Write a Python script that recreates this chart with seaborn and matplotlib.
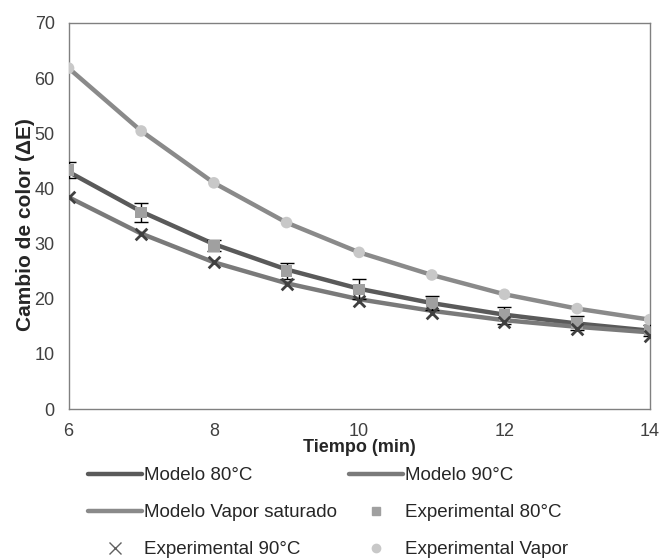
import numpy as np
import matplotlib
matplotlib.use("Agg")
import matplotlib.pyplot as plt
import seaborn as sns
import pandas as pd
from matplotlib.lines import Line2D

# data
tiempo = [6, 7, 8, 9, 10, 11, 12, 13, 14]
exp_80 = [43.3, 35.6, 29.6, 25.0, 21.7, 19.2, 17.0, 15.6, 14.3]
err_80 = [1.5, 1.7, 1.0, 1.5, 1.8, 1.3, 1.5, 1.3, 1.0]
exp_90 = [38.4, 31.7, 26.7, 22.7, 19.6, 17.4, 15.8, 14.5, 13.3]
exp_vapor = [61.8, 50.4, 41.0, 33.8, 28.4, 24.3, 20.8, 18.2, 16.2]
mod_80 = [43.0, 35.8, 29.9, 25.3, 21.8, 19.2, 17.1, 15.5, 14.2]
mod_90 = [38.4, 31.8, 26.6, 22.8, 19.9, 17.8, 16.1, 14.9, 13.9]
mod_vapor = [61.8, 50.4, 41.0, 33.8, 28.4, 24.3, 20.8, 18.2, 16.2]

sns.set_style("white")
plt.rcParams["font.family"] = ["Liberation Sans", "DejaVu Sans"]
FS = 13

fig = plt.figure(figsize=(6.59, 5.58), dpi=100)
ax = fig.add_axes([0.104, 0.267, 0.882, 0.692])

df_mod = pd.DataFrame({"t": tiempo * 3,
                       "v": mod_80 + mod_90 + mod_vapor,
                       "s": ["Modelo 80°C"] * 9 + ["Modelo 90°C"] * 9 + ["Modelo Vapor saturado"] * 9})
line_cols = {"Modelo 80°C": "#5a5a5a", "Modelo 90°C": "#7a7a7a", "Modelo Vapor saturado": "#8a8a8a"}
sns.lineplot(data=df_mod, x="t", y="v", hue="s", palette=line_cols, linewidth=3.2,
             ax=ax, legend=False, zorder=2)

ax.errorbar(tiempo, exp_80, yerr=err_80, fmt="none", ecolor="black", elinewidth=1,
            capsize=5, capthick=1, zorder=3)
sns.scatterplot(x=tiempo, y=exp_80, marker="s", s=70, color="#a0a0a0", edgecolor="none", ax=ax, zorder=4)
sns.scatterplot(x=tiempo, y=exp_90, marker="x", s=70, color="#404040", linewidth=2, ax=ax, zorder=4)
sns.scatterplot(x=tiempo, y=exp_vapor, marker="o", s=70, color="#c8c8c8", edgecolor="none", ax=ax, zorder=4)

ax.set_xlim(6, 14)
ax.set_ylim(0, 70)
ax.set_xticks([6, 8, 10, 12, 14])
ax.set_yticks(range(0, 71, 10))
ax.tick_params(axis="both", length=0, labelsize=FS, colors="#404040")
ax.tick_params(axis="y", pad=10)
ax.tick_params(axis="x", pad=10)
for sp in ax.spines.values():
    sp.set_color("#808080")
    sp.set_linewidth(1)

ax.set_xlabel("Tiempo (min)", fontsize=FS, fontweight="bold", labelpad=-1)
ax.set_ylabel("Cambio de color (ΔE)", fontsize=15, fontweight="bold")
ax.yaxis.set_label_coords(-0.057, 0.477)

h_m80 = Line2D([], [], color="#5a5a5a", lw=3.2)
h_m90 = Line2D([], [], color="#7a7a7a", lw=3.2)
h_mv = Line2D([], [], color="#8a8a8a", lw=3.2)
h_e80 = Line2D([], [], ls="none", marker="s", ms=6, color="#a0a0a0")
h_e90 = Line2D([], [], ls="none", marker="x", ms=9, color="#606060", mew=1)
h_ev = Line2D([], [], ls="none", marker="o", ms=6, color="#c8c8c8")
handles = [h_m80, h_mv, h_e90, h_m90, h_e80, h_ev]
labels = ["Modelo 80°C", "Modelo Vapor saturado", "Experimental 90°C",
          "Modelo 90°C", "Experimental 80°C", "Experimental Vapor"]
fig.legend(handles, labels, ncol=2, loc="upper left", bbox_to_anchor=(88 / 659, 0.163),
           frameon=False, fontsize=13.5, handlelength=2.9, handletextpad=0.1,
           columnspacing=0.6, labelspacing=1.06, borderpad=0, borderaxespad=0)

fig.savefig("out.png", dpi=100)
